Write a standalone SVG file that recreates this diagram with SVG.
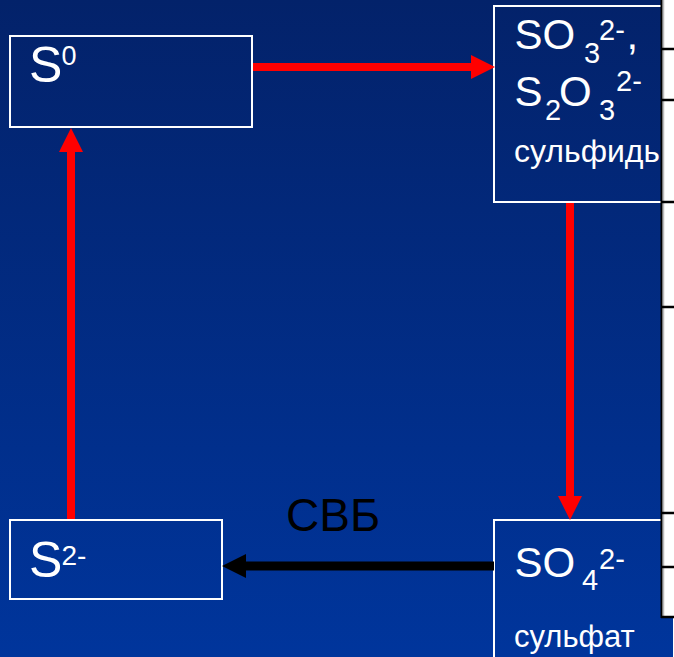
<svg xmlns="http://www.w3.org/2000/svg" width="674" height="657" viewBox="0 0 674 657">
<defs>
<linearGradient id="bg" x1="0" y1="0" x2="0" y2="1">
<stop offset="0" stop-color="#03226A"/>
<stop offset="1" stop-color="#00359C"/>
</linearGradient>
<marker id="redHead" markerUnits="userSpaceOnUse" viewBox="0 0 24 24" markerWidth="24" markerHeight="24" refX="0" refY="12" orient="auto">
<path d="M0,0 L24,12 L0,24 Z" fill="#FF0000"/>
</marker>
<marker id="blackHead" markerUnits="userSpaceOnUse" viewBox="0 0 24 24" markerWidth="24" markerHeight="24" refX="0" refY="12" orient="auto">
<path d="M0,0 L24,12 L0,24 Z" fill="#000000"/>
</marker>
</defs>
<style>
.box{fill:none;stroke:#FFFFFF;stroke-width:2}
.t{font-family:"Liberation Sans",Arial,sans-serif;fill:#FFFFFF}
.red{stroke:#FF0000;stroke-width:8;fill:none}
.blk{stroke:#000000;stroke-width:9;fill:none}
.tick{stroke:#000000;stroke-width:2.5}
</style>
<rect x="0" y="0" width="674" height="657" fill="url(#bg)"/>

<g id="node-S0">
<rect class="box" x="10" y="36" width="242" height="91"/>
<text class="t" x="29" y="82" font-size="50">S</text>
<text class="t" x="61.5" y="65" font-size="27">0</text>
</g>

<g id="node-SO3">
<rect class="box" x="494" y="6" width="180" height="196"/>
<text class="t" x="514.6" y="49" font-size="42">SO</text>
<text class="t" x="584" y="63" font-size="29">3</text>
<text class="t" x="599" y="40" font-size="29">2-</text>
<text class="t" x="626.5" y="49" font-size="42">,</text>
<text class="t" x="514.6" y="106" font-size="42">S</text>
<text class="t" x="545" y="120" font-size="29">2</text>
<text class="t" x="559" y="106" font-size="42">O</text>
<text class="t" x="599" y="120" font-size="29">3</text>
<text class="t" x="616" y="91" font-size="29">2-</text>
<text class="t" x="514" y="162" font-size="32">сульфиды</text>
</g>

<g id="node-S2">
<rect class="box" x="10" y="520" width="212" height="79"/>
<text class="t" x="29" y="577" font-size="50">S</text>
<text class="t" x="61.5" y="565" font-size="28">2-</text>
</g>

<g id="node-SO4">
<rect class="box" x="494" y="520" width="180" height="150"/>
<text class="t" x="514.6" y="577" font-size="42">SO</text>
<text class="t" x="582" y="590" font-size="29">4</text>
<text class="t" x="599" y="569" font-size="29">2-</text>
<text class="t" x="514" y="647" font-size="31">сульфат</text>
</g>

<g id="connectors">
<line class="red" x1="253" y1="67" x2="471" y2="67" marker-end="url(#redHead)"/>
<line class="red" x1="570" y1="203" x2="570" y2="496" marker-end="url(#redHead)"/>
<line class="red" x1="71" y1="519" x2="71" y2="152" marker-end="url(#redHead)"/>
<line class="blk" x1="494" y1="566" x2="246" y2="566" marker-end="url(#blackHead)"/>
<text x="286" y="531" font-size="46" font-family="Liberation Sans, Arial, sans-serif" fill="#000000">СВБ</text>
</g>

<g id="edge-strip">
<rect x="662" y="0" width="12" height="617" fill="#FFFFFF"/>
<line x1="663.5" y1="0" x2="663.5" y2="617" stroke="#BBBBBB" stroke-width="1.5"/>
<line x1="661.5" y1="0" x2="661.5" y2="618" stroke="#000000" stroke-width="2"/>
<line class="tick" x1="661" y1="49" x2="674" y2="49"/>
<line class="tick" x1="661" y1="100" x2="674" y2="100"/>
<line class="tick" x1="661" y1="202" x2="674" y2="202"/>
<line class="tick" x1="661" y1="307" x2="674" y2="307"/>
<line class="tick" x1="661" y1="513" x2="674" y2="513"/>
<line class="tick" x1="661" y1="567" x2="674" y2="567"/>
<line class="tick" x1="661" y1="617" x2="674" y2="617"/>
</g>
</svg>
